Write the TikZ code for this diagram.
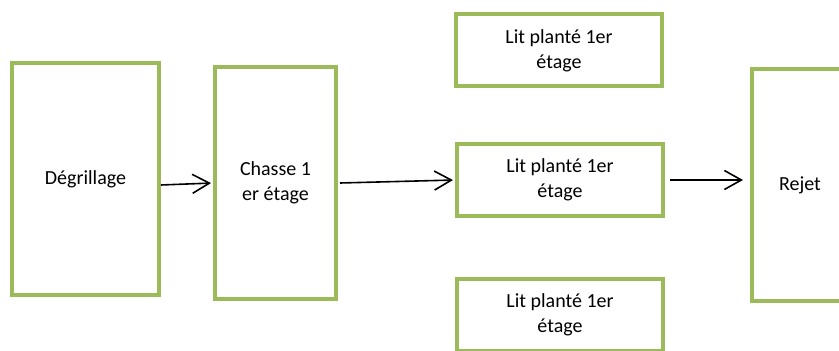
\documentclass[tikz,border=0pt]{standalone}
\usepackage{fontspec}
\setmainfont{Carlito}
\usetikzlibrary{arrows.meta,positioning}
\definecolor{boxgreen}{HTML}{9BBB59}

\begin{document}
\begin{tikzpicture}[x=0.5pt,y=-0.5pt,shorten >=1pt,
  etape/.style={draw=boxgreen,line width=2pt,rectangle,align=center,font=\fontsize{10}{12.3}\selectfont,inner sep=0pt},
  grand/.style={etape,minimum width=73.5pt,minimum height=116pt},
  lit/.style={etape,minimum width=103pt,minimum height=36pt}]
  \useasboundingbox (0,0) rectangle (839,351);

  \node[grand]                        (degr)   at (85.5,179) {Dégrillage};
  \node[grand,minimum width=60.5pt]   (chasse) at (275.5,183) {Chasse 1\\er étage};
  \node[lit]                          (lit1)   at (559,50.5)  {Lit planté 1er\\étage};
  \node[lit]                          (lit2)   at (560,180)   {Lit planté 1er\\étage};
  \node[lit]                          (lit3)   at (560,315)   {Lit planté 1er\\étage};
  \node[grand,minimum width=48pt]     (rejet)  at (800,185)   {Rejet};

 \path[-{Straight Barb[length=8.5pt,width=9.5pt]},line width=0.8pt]
     ([yshift=-3pt]degr.east)   edge (chasse.west)
     ([xshift=1pt]chasse.east)  edge (lit2.west)
     ([xshift=2.5pt]lit2.east)  edge ([xshift=-2.5pt,yshift=2.5pt]rejet.west)
  ;
\end{tikzpicture}
\end{document}
